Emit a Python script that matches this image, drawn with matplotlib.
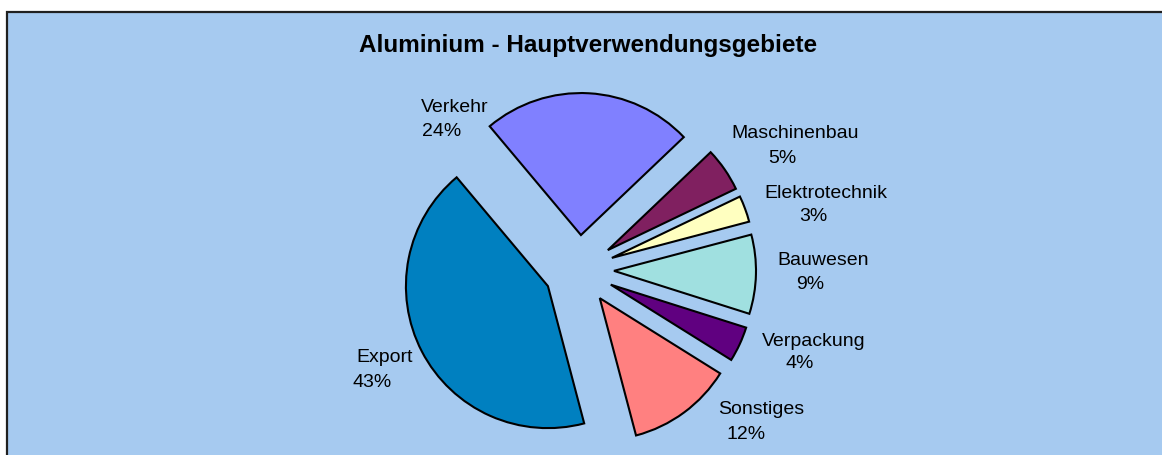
import matplotlib
matplotlib.use("Agg")
import matplotlib.pyplot as plt
from matplotlib.patches import Rectangle

plt.rcParams['font.family'] = ['Liberation Sans', 'DejaVu Sans']

# data (Verkehr first, Excel goes clockwise from the top)
categories = ["Verkehr", "Maschinenbau", "Elektrotechnik", "Bauwesen",
              "Verpackung", "Sonstiges", "Export"]
shares = [24, 5, 3, 9, 4, 12, 43]
colors = ["#8080FF", "#802060", "#FFFFC0", "#A0E0E0", "#600080", "#FF8080", "#0080C0"]

# label placement in picture pixels (x centre, baseline y)
name_pos = [(455, 112), (795, 138), (826, 198), (823, 265), (814, 346), (761, 414), (385, 362)]
pct_pos = [(442, 136), (782, 163), (813, 221), (810, 289), (800, 368), (746, 439), (372, 387)]

W, H = 1162, 455


def main():
    fig = plt.figure(figsize=(W / 100, H / 100), dpi=100)
    fig.patch.set_facecolor("white")

    # chart area with border, runs off the right and bottom edge
    fig.patches.append(Rectangle((7 / W, -0.05), 1.1, (H - 12) / H + 0.05,
                                 transform=fig.transFigure, facecolor="#A6CAF0",
                                 edgecolor="#202020", linewidth=1.6, zorder=-1))

    ax = fig.add_axes([0, 0, 1, 1])
    ax.set_facecolor("none")
    # explode is in data units here (radius is 142 px)
    ax.pie(shares, colors=colors, startangle=130, counterclock=False,
           center=(579, H - 270), radius=142, explode=[35] * len(shares),
           wedgeprops=dict(edgecolor="black", linewidth=1.5))
    ax.set_xlim(0, W)
    ax.set_ylim(0, H)
    ax.set_aspect("auto")
    ax.axis("off")

    for name, share, (nx, ny), (px, py) in zip(categories, shares, name_pos, pct_pos):
        ax.text(nx, H - ny, name, fontsize=14, ha="center", va="baseline")
        ax.text(px, H - py, f"{share}%", fontsize=14, ha="center", va="baseline")

    ax.text(588, H - 52, "Aluminium - Hauptverwendungsgebiete", fontsize=17.5,
            fontweight="bold", ha="center", va="baseline")

    fig.savefig("out.png", dpi=100)


if __name__ == "__main__":
    main()
